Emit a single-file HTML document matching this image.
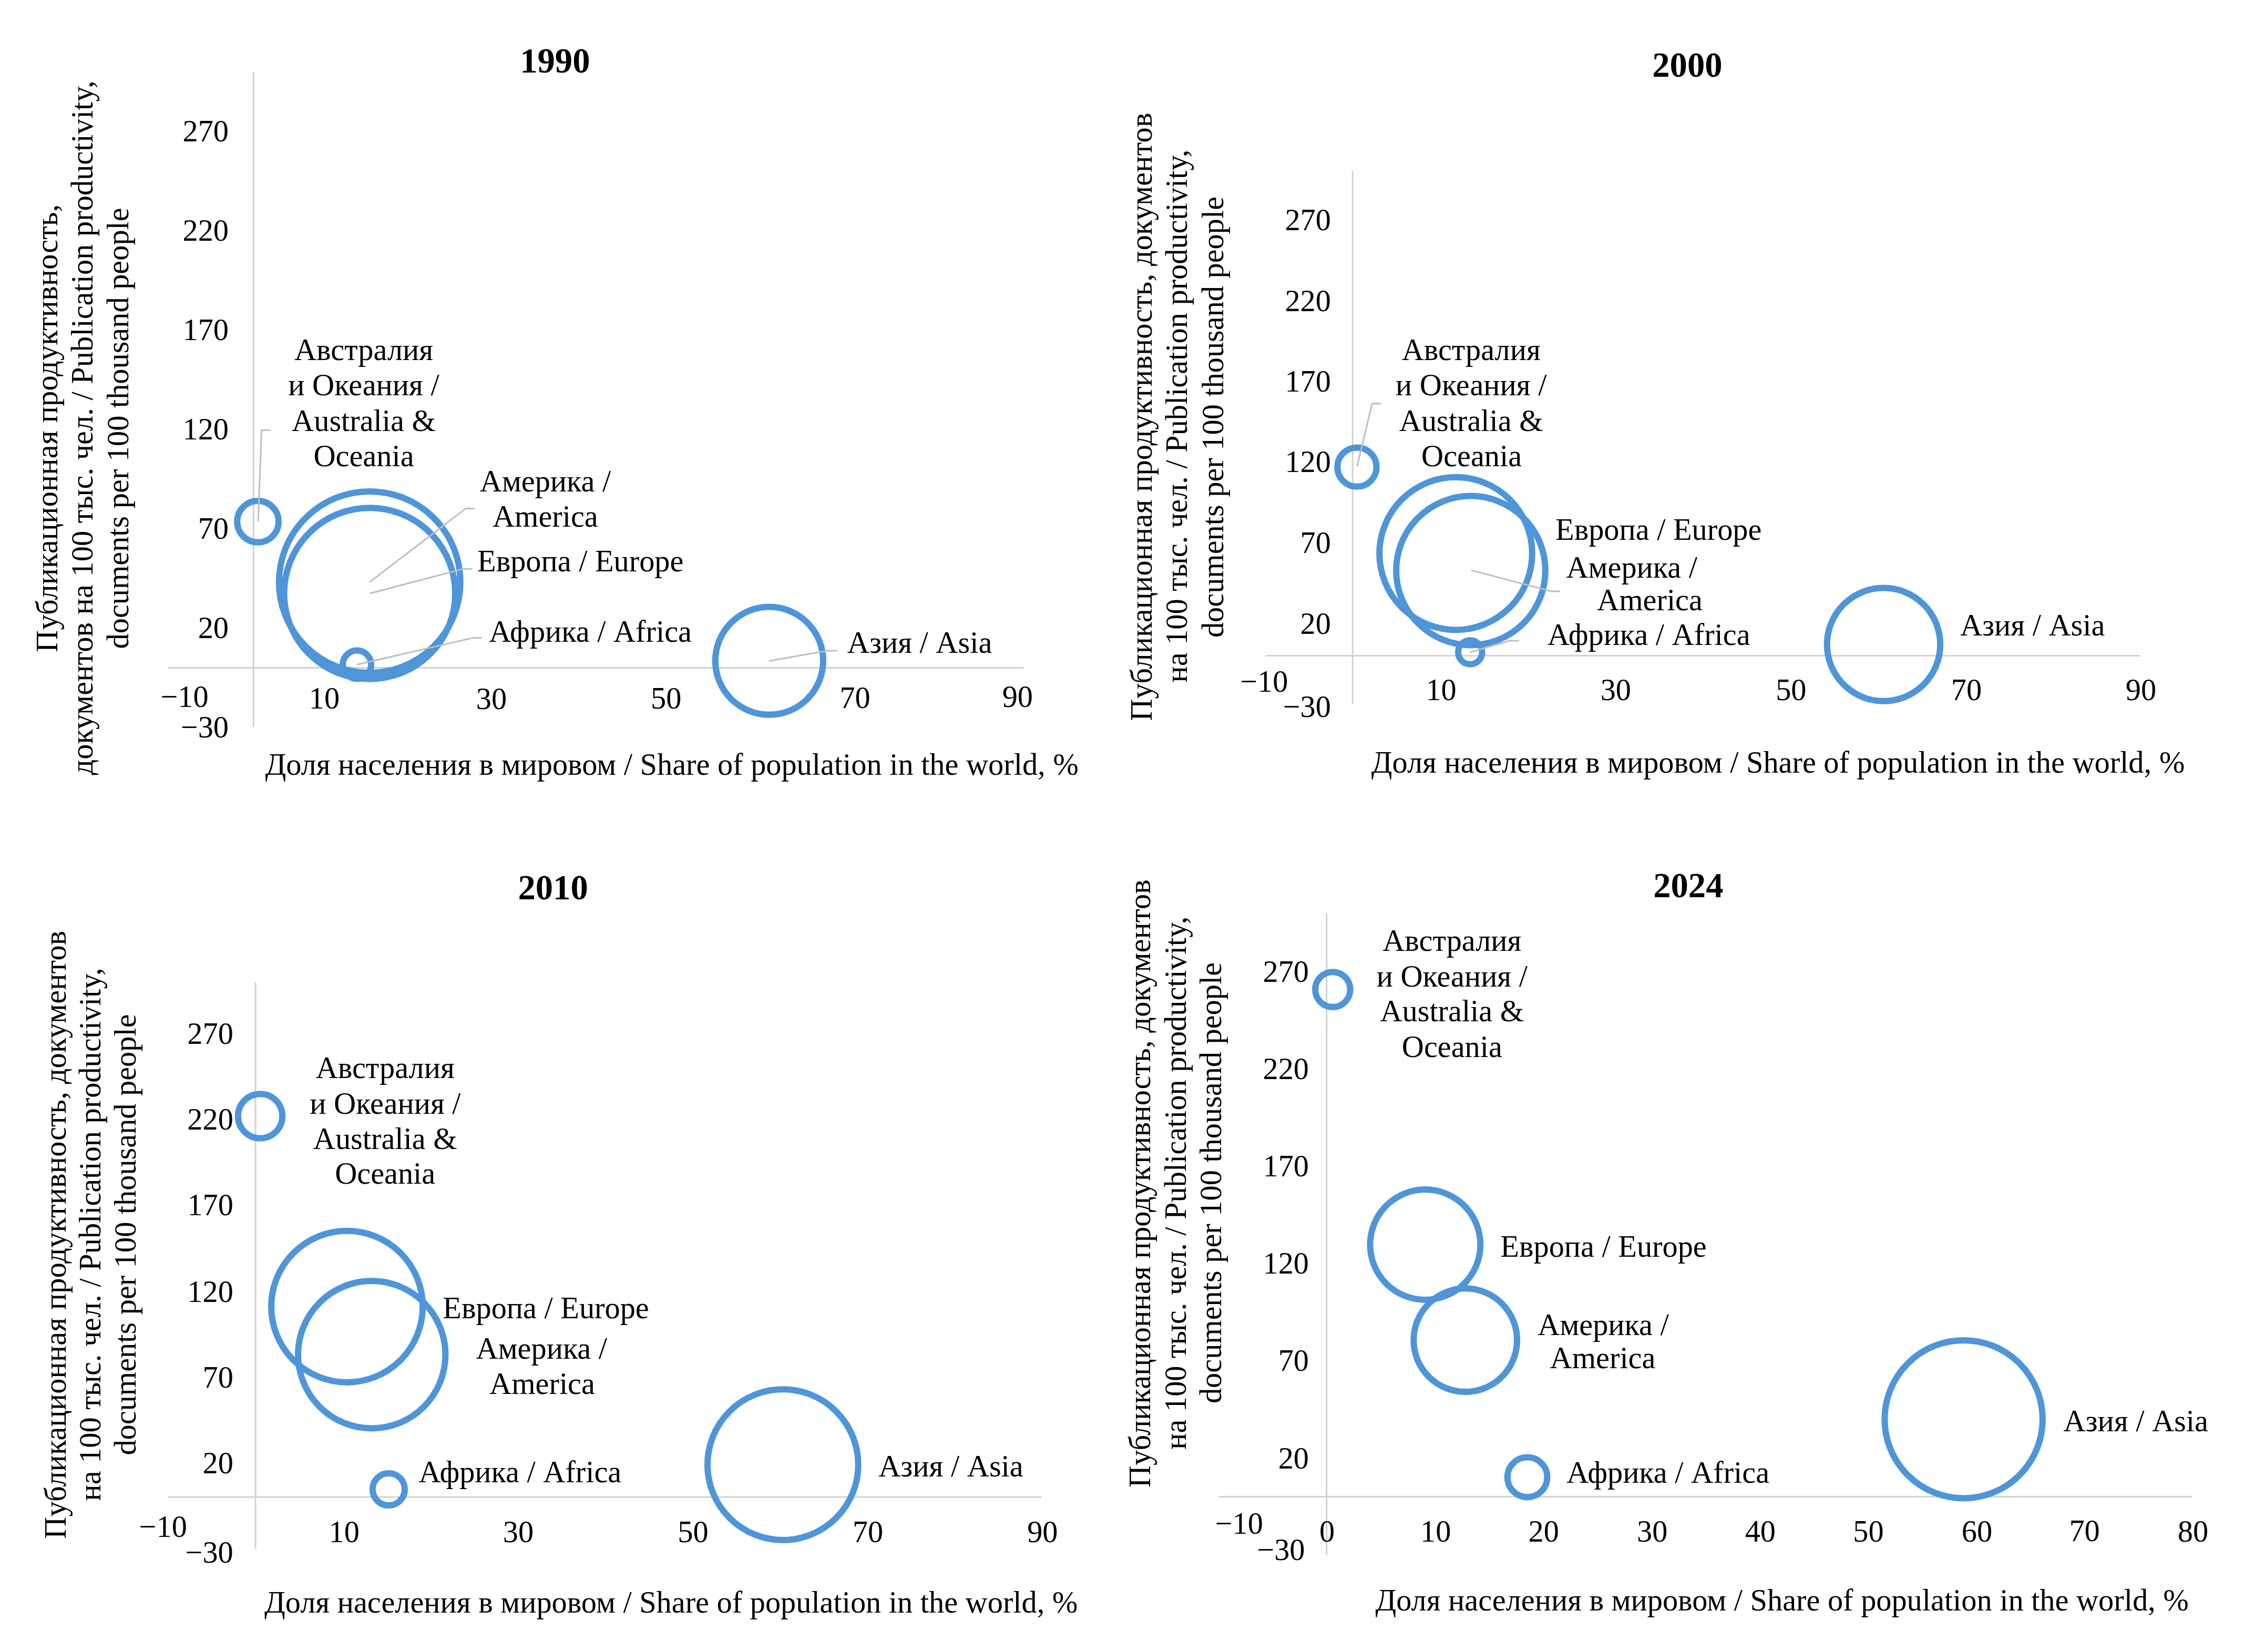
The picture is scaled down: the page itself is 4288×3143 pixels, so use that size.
<!DOCTYPE html>
<html lang="ru"><head><meta charset="utf-8"><title>Publication productivity by world region</title>
<style>html,body{margin:0;padding:0;background:#fff}svg{display:block}text{font-family:"Liberation Serif",serif;font-size:58.33px;fill:#000}.t{font-weight:bold;font-size:66.67px}.ax{stroke:#D2D2D2;stroke-width:3.0;fill:none}.ld{stroke:#BEBEBE;stroke-width:3.0;fill:none;stroke-linejoin:round}.b{stroke:#4E95D9;stroke-width:12.0;fill:none}.m{text-anchor:middle}.e{text-anchor:end}</style></head><body>
<svg width="4288" height="3143" viewBox="0 0 4288 3143">
<rect width="4288" height="3143" fill="#fff"/>
<g>
<line class="ax" x1="482.2" y1="136.7" x2="482.2" y2="1383.0"/>
<line class="ax" x1="319.7" y1="1270.5" x2="1947.8" y2="1270.5"/>
<circle class="b" cx="490.6" cy="992.4" r="39.4"/>
<circle class="b" cx="703.3" cy="1107.4" r="172.5"/>
<circle class="b" cx="703.3" cy="1129" r="162.8"/>
<circle class="b" cx="679.1" cy="1264.5" r="27"/>
<circle class="b" cx="1463.4" cy="1257.2" r="102.6"/>
<polyline class="ld" points="491,991.6 497.7,818.4 514.8,818.4"/>
<polyline class="ld" points="703.3,1107.4 885.8,967.6 902.9,967.6"/>
<polyline class="ld" points="703.6,1129 880.9,1082.4 898.8,1082.4"/>
<polyline class="ld" points="678.9,1264.5 899.5,1213.6 916.5,1213.6"/>
<polyline class="ld" points="1463.2,1257.4 1575.2,1237.9 1592.8,1237.9"/>
<text class="t m" x="1055.8" y="138.2">1990</text>
<text class="e" x="435" y="269">270</text>
<text class="e" x="435" y="458">220</text>
<text class="e" x="435" y="647">170</text>
<text class="e" x="435" y="836">120</text>
<text class="e" x="435" y="1025">70</text>
<text class="e" x="435" y="1214">20</text>
<text class="e" x="435" y="1403">−30</text>
<text class="m" x="351" y="1345">−10</text>
<text class="m" x="617" y="1347.6">10</text>
<text class="m" x="935" y="1349">30</text>
<text class="m" x="1267.2" y="1348">50</text>
<text class="m" x="1626.6" y="1346.7">70</text>
<text class="m" x="1935.8" y="1345">90</text>
<text x="504.4" y="1473.8">Доля населения в мировом / Share of population in the world, %</text>
<text class="m" transform="translate(109.2 814.8) rotate(-90)" textLength="852.2" lengthAdjust="spacing">Публикационная продуктивность,</text>
<text class="m" transform="translate(176.2 814) rotate(-90)" textLength="1321.1" lengthAdjust="spacing">документов на 100 тыс. чел. / Publication productivity,</text>
<text class="m" transform="translate(243.6 814.9) rotate(-90)">documents per 100 thousand people</text>
<text class="m" x="692" y="685">Австралия</text>
<text class="m" x="692" y="752">и Океания /</text>
<text class="m" x="692" y="820">Australia &amp;</text>
<text class="m" x="692" y="887">Oceania</text>
<text class="m" x="1037.5" y="934.5">Америка /</text>
<text class="m" x="1037.3" y="1001.5">America</text>
<text x="908" y="1087">Европа / Europe</text>
<text x="930.2" y="1221">Африка / Africa</text>
<text x="1611.8" y="1241.7">Азия / Asia</text>
</g>
<g>
<line class="ax" x1="2573.2" y1="325.5" x2="2573.2" y2="1340.0"/>
<line class="ax" x1="2407.2" y1="1247.5" x2="4071" y2="1247.5"/>
<circle class="b" cx="2581.5" cy="888.6" r="37.2"/>
<circle class="b" cx="2769.5" cy="1053.1" r="145.3"/>
<circle class="b" cx="2798" cy="1085.5" r="141.9"/>
<circle class="b" cx="2796.8" cy="1241" r="22.8"/>
<circle class="b" cx="3583.4" cy="1226.2" r="107.7"/>
<polyline class="ld" points="2581.8,887 2610.3,768 2627.4,768"/>
<polyline class="ld" points="2798.7,1084.9 2951,1124.9 2968.1,1124.9"/>
<polyline class="ld" points="2796.8,1241 2872,1219 2890,1219"/>
<text class="t m" x="3209.9" y="145.6">2000</text>
<text class="e" x="2531.9" y="438">270</text>
<text class="e" x="2531.9" y="591.6">220</text>
<text class="e" x="2531.9" y="745.2">170</text>
<text class="e" x="2531.9" y="898.4">120</text>
<text class="e" x="2531.9" y="1051.8">70</text>
<text class="e" x="2531.9" y="1206">20</text>
<text class="e" x="2531.9" y="1364">−30</text>
<text class="m" x="2404.8" y="1315.5">−10</text>
<text class="m" x="2741.6" y="1332">10</text>
<text class="m" x="3073.8" y="1332">30</text>
<text class="m" x="3407.3" y="1332">50</text>
<text class="m" x="3740.9" y="1332">70</text>
<text class="m" x="4073" y="1332">90</text>
<text x="2608.8" y="1470.3">Доля населения в мировом / Share of population in the world, %</text>
<text class="m" transform="translate(2190.7 793.1) rotate(-90)" textLength="1157.1" lengthAdjust="spacing">Публикационная продуктивность, документов</text>
<text class="m" transform="translate(2258.3 791.6) rotate(-90)">на 100 тыс. чел. / Publication productivity,</text>
<text class="m" transform="translate(2326.8 793.5) rotate(-90)">documents per 100 thousand people</text>
<text class="m" x="2798.7" y="685.2">Австралия</text>
<text class="m" x="2798.7" y="751.8">и Океания /</text>
<text class="m" x="2798.7" y="820.3">Australia &amp;</text>
<text class="m" x="2799.6" y="887">Oceania</text>
<text class="m" x="3104.2" y="1099.2">Америка /</text>
<text class="m" x="3138.5" y="1161">America</text>
<text x="2959" y="1027.4">Европа / Europe</text>
<text x="2943.8" y="1226.6">Африка / Africa</text>
<text x="3728.9" y="1208.6">Азия / Asia</text>
</g>
<g>
<line class="ax" x1="486.0" y1="1869.2" x2="486.0" y2="2946.5"/>
<line class="ax" x1="319.8" y1="2848.2" x2="1981.5" y2="2848.2"/>
<circle class="b" cx="495.0" cy="2123.4" r="42.2"/>
<circle class="b" cx="660.1" cy="2485.8" r="144.1"/>
<circle class="b" cx="707.2" cy="2577.3" r="140.2"/>
<circle class="b" cx="739.4" cy="2833.5" r="30.6"/>
<circle class="b" cx="1489.3" cy="2786.6" r="143.4"/>
<text class="t m" x="1052.1" y="1711">2010</text>
<text class="e" x="443.8" y="1986.4">270</text>
<text class="e" x="443.8" y="2148.8">220</text>
<text class="e" x="443.8" y="2312.4">170</text>
<text class="e" x="443.8" y="2477">120</text>
<text class="e" x="443.8" y="2640">70</text>
<text class="e" x="443.8" y="2802.8">20</text>
<text class="e" x="443.8" y="2973">−30</text>
<text class="m" x="310.2" y="2924.3">−10</text>
<text class="m" x="654.7" y="2933.6">10</text>
<text class="m" x="985.9" y="2933.6">30</text>
<text class="m" x="1318.5" y="2933.6">50</text>
<text class="m" x="1651.1" y="2933.6">70</text>
<text class="m" x="1983.3" y="2933.6">90</text>
<text x="503" y="3067.6">Доля населения в мировом / Share of population in the world, %</text>
<text class="m" transform="translate(125 2349.3) rotate(-90)" textLength="1157.1" lengthAdjust="spacing">Публикационная продуктивность, документов</text>
<text class="m" transform="translate(190.8 2348.5) rotate(-90)">на 100 тыс. чел. / Publication productivity,</text>
<text class="m" transform="translate(258.2 2349) rotate(-90)">documents per 100 thousand people</text>
<text class="m" x="732.7" y="2051.4">Австралия</text>
<text class="m" x="732.9" y="2119">и Океания /</text>
<text class="m" x="732.7" y="2185.8">Australia &amp;</text>
<text class="m" x="732.7" y="2252.4">Oceania</text>
<text class="m" x="1030.3" y="2584.5">Америка /</text>
<text class="m" x="1031.5" y="2651.6">America</text>
<text x="842.3" y="2508.1">Европа / Europe</text>
<text x="796.5" y="2819.6">Африка / Africa</text>
<text x="1671.2" y="2809.1">Азия / Asia</text>
</g>
<g>
<line class="ax" x1="2523.7" y1="1737.5" x2="2523.7" y2="2958.5"/>
<line class="ax" x1="2318.2" y1="2847.5" x2="4170.5" y2="2847.5"/>
<circle class="b" cx="2535.4" cy="1882.6" r="33.3"/>
<circle class="b" cx="2711.4" cy="2368" r="104.9"/>
<circle class="b" cx="2787.7" cy="2549.7" r="98.4"/>
<circle class="b" cx="2905.6" cy="2810.5" r="37.9"/>
<circle class="b" cx="3735.6" cy="2700.2" r="150.3"/>
<text class="t m" x="3211.8" y="1707.3">2024</text>
<text class="e" x="2490" y="1867.6">270</text>
<text class="e" x="2490" y="2053">220</text>
<text class="e" x="2490" y="2238">170</text>
<text class="e" x="2490" y="2423">120</text>
<text class="e" x="2490" y="2608">70</text>
<text class="e" x="2490" y="2793.5">20</text>
<text class="e" x="2482.5" y="2967.7">−30</text>
<text class="m" x="2357.2" y="2918.3">−10</text>
<text class="m" x="2524.7" y="2932.8">0</text>
<text class="m" x="2731.2" y="2932.8">10</text>
<text class="m" x="2936.7" y="2932.8">20</text>
<text class="m" x="3143.2" y="2932.8">30</text>
<text class="m" x="3348.8" y="2932.8">40</text>
<text class="m" x="3554.4" y="2932.8">50</text>
<text class="m" x="3760.9" y="2932.8">60</text>
<text class="m" x="3965.6" y="2932.4">70</text>
<text class="m" x="4172" y="2932.8">80</text>
<text x="2616.4" y="3064.2">Доля населения в мировом / Share of population in the world, %</text>
<text class="m" transform="translate(2188.3 2251.7) rotate(-90)" textLength="1157.1" lengthAdjust="spacing">Публикационная продуктивность, документов</text>
<text class="m" transform="translate(2255.6 2250.7) rotate(-90)">на 100 тыс. чел. / Publication productivity,</text>
<text class="m" transform="translate(2323.3 2250.5) rotate(-90)">documents per 100 thousand people</text>
<text class="m" x="2762.3" y="1809">Австралия</text>
<text class="m" x="2762.3" y="1876.5">и Океания /</text>
<text class="m" x="2762.3" y="1943.1">Australia &amp;</text>
<text class="m" x="2762.3" y="2010.5">Oceania</text>
<text class="m" x="3050" y="2539.8">Америка /</text>
<text class="m" x="3049" y="2603.3">America</text>
<text x="2854.3" y="2390.8">Европа / Europe</text>
<text x="2980.3" y="2820.7">Африка / Africa</text>
<text x="3925.4" y="2722.8">Азия / Asia</text>
</g>
</svg></body></html>
